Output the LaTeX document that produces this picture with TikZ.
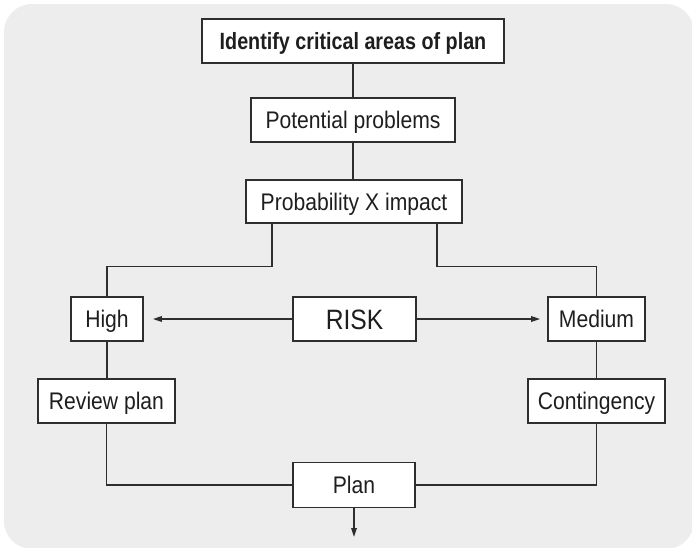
\documentclass[tikz,border=0pt]{standalone}
\usepackage{fontspec}
\setmainfont{Liberation Sans}[FakeStretch=0.88]
\newfontfamily\headfont{Liberation Sans}[FakeStretch=0.84]
\usetikzlibrary{arrows.meta,calc}
\definecolor{panel}{HTML}{EDEDED}
\definecolor{ink}{HTML}{2E2E2E}
\definecolor{txt}{HTML}{1E1E1E}
\tikzset{
  box/.style={draw=ink, fill=white, line width=1.6pt, inner sep=0pt,
    minimum height=44pt, text=txt, text height=17.2pt, text depth=0pt,
    font=\fontsize{24}{27}\selectfont},
  link/.style={draw=ink, line width=1.6pt},
  tip/.style={link, -{Triangle[length=9pt,width=5.5pt]}},
}
\begin{document}
\begin{tikzpicture}[x=1pt,y=-1pt]
  \useasboundingbox (0,0) rectangle (692,547);
  \fill[panel, rounded corners=28pt] (4,4) rectangle (694,549);

  % process boxes
  \node[box, minimum width=302pt, text height=16.8pt, font=\headfont\bfseries\fontsize{23.5}{26}\selectfont] (ident) at (353,41) {Identify critical areas of plan};
  \node[box, minimum width=204pt] (pot) at (353,120) {Potential problems};
  \node[box, minimum width=216pt, minimum height=43pt] (prob) at (354,201.5) {Probability X impact};
  \node[box, minimum width=72pt] (high) at (107,319) {High};
  \node[box, minimum width=123pt, text height=20pt, font=\fontsize{28}{31}\selectfont] (risk) at (354.5,319) {RISK};
  \node[box, minimum width=97pt] (med) at (596.5,319) {Medium};
  \node[box, minimum width=137pt] (review) at (106.5,401) {Review plan};
  \node[box, minimum width=137pt] (cont) at (596.5,401) {Contingency};
  \node[box, minimum width=122pt, minimum height=45pt] (plan) at (354,485) {Plan};
  \coordinate (out) at (354,537);

  % connectors
  \draw[link] (ident.south) -- (pot.north);
  \draw[link] (pot.south) -- (pot.south |- prob.north);
  \draw[link] ([xshift=-82pt]prob.south) -- ++(0,42.5) -| (high.north);
  \draw[link] ([xshift=83pt]prob.south) -- ++(0,42.5) -| (med.north);
  \draw[tip] (risk.west) -- ([xshift=9pt]high.east);
  \draw[tip] (risk.east) -- ([xshift=-7pt]med.west);
  \draw[link] (high.south) -- (high.south |- review.north);
  \draw[link] (med.south) -- (med.south |- cont.north);
  \draw[link] (review.south) |- (plan.west);
  \draw[link] (cont.south) |- (plan.east);
  \draw[tip] (plan.south) -- (out);
\end{tikzpicture}
\end{document}
